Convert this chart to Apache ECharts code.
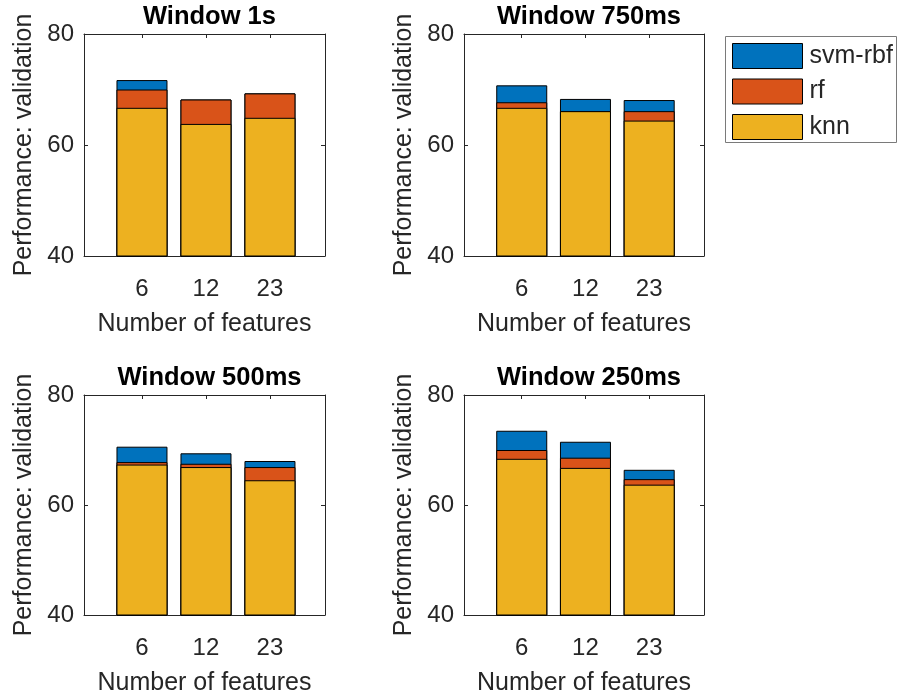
<!DOCTYPE html>
<html>
<head>
<meta charset="utf-8">
<script src="https://cdn.jsdelivr.net/npm/echarts@6/dist/echarts.min.js"></script>
<style>html,body{margin:0;padding:0;background:#fff}#chart{width:901px;height:698px}</style>
</head>
<body>
<div id="chart"></div>
<script>
// ---- data ----
const categories = ['6', '12', '23'];
const catPos = [1, 2, 3];
const titles = ['Window 1s', 'Window 750ms', 'Window 500ms', 'Window 250ms'];
const seriesNames = ['svm-rbf', 'rf', 'knn'];
// performance (validation) reached by each classifier, per window, per feature count
const knn = [[66.7, 63.8, 64.9], [66.7, 66.1, 64.4], [67.35, 66.9, 64.5], [68.4, 66.75, 63.7]];
const rf  = [[70.0, 68.2, 69.3], [67.7, 66.1, 66.1], [67.8, 67.5, 66.9], [70.0, 68.6, 64.7]];
const svm = [[71.7, 68.2, 69.3], [70.75, 68.3, 68.1], [70.6, 69.4, 68.0], [73.5, 71.5, 66.4]];
const yTicks = [40, 60, 80];

// ---- layout / style ----
const colors = {'svm-rbf': '#0072BD', 'rf': '#D95319', 'knn': '#EDB120'};
const grids = [
  {left: 84, top: 34, width: 241, height: 222},
  {left: 464, top: 34, width: 240, height: 222},
  {left: 84, top: 395, width: 241, height: 220},
  {left: 464, top: 395, width: 240, height: 220}
];
const FONT = 'Liberation Sans, Arial, Helvetica, sans-serif';
const axisColor = '#262626';
const tickFS = 24, labelFS = 25, titleFS = 25.5;

const xAxes = [], yAxes = [], series = [], title = [];
const valuesBy = {'svm-rbf': svm, 'rf': rf, 'knn': knn};

grids.forEach((g, i) => {
  const common = {
    type: 'value', gridIndex: i, min: 0.094, max: 3.86,
    axisLine: {show: true, onZero: false, lineStyle: {color: axisColor, width: 1}},
    splitLine: {show: false}
  };
  xAxes.push(Object.assign({}, common, {
    position: 'bottom',
    name: 'Number of features', nameLocation: 'middle', nameGap: 56,
    nameTextStyle: {fontSize: labelFS, color: axisColor, fontFamily: FONT},
    axisTick: {show: true, inside: true, length: 4, customValues: catPos, lineStyle: {color: axisColor}},
    axisLabel: {show: true, customValues: catPos, margin: 21, fontSize: tickFS, color: axisColor, fontFamily: FONT,
      formatter: v => categories[catPos.indexOf(Math.round(v))] || ''}
  }));
  xAxes.push(Object.assign({}, common, {
    position: 'top',
    axisTick: {show: true, inside: true, length: 4, customValues: catPos, lineStyle: {color: axisColor}},
    axisLabel: {show: false}
  }));
  const ycommon = {
    type: 'value', gridIndex: i, min: yTicks[0], max: yTicks[yTicks.length - 1], interval: 20,
    axisLine: {show: true, onZero: false, lineStyle: {color: axisColor, width: 1}},
    splitLine: {show: false},
    axisTick: {show: true, inside: true, length: 4, lineStyle: {color: axisColor}}
  };
  yAxes.push(Object.assign({}, ycommon, {
    position: 'left',
    name: 'Performance: validation', nameLocation: 'middle', nameGap: 47,
    nameTextStyle: {fontSize: labelFS, color: axisColor, fontFamily: FONT},
    axisLabel: {show: true, margin: 10, fontSize: tickFS, color: axisColor, fontFamily: FONT}
  }));
  yAxes.push(Object.assign({}, ycommon, {position: 'right', axisLabel: {show: false}}));

  seriesNames.forEach(name => {
    series.push({
      name: name, type: 'bar', xAxisIndex: 2 * i, yAxisIndex: 2 * i,
      barWidth: 51, barGap: '-100%', clip: true,
      itemStyle: {color: colors[name], borderColor: '#000', borderWidth: 1},
      data: catPos.map((x, k) => [x, valuesBy[name][i][k]])
    });
  });

  title.push({
    text: titles[i], left: g.left + g.width / 2, textAlign: 'center', top: g.top - 35,
    textStyle: {fontSize: titleFS, fontWeight: 'bold', color: '#000', fontFamily: FONT}
  });
});

const chart = echarts.init(document.getElementById('chart'), null, {renderer: 'canvas'});
chart.setOption({
  animation: false,
  backgroundColor: '#fff',
  title: title,
  grid: grids,
  xAxis: xAxes,
  yAxis: yAxes,
  series: series,
  legend: {
    data: ['svm-rbf', 'rf', 'knn'], orient: 'vertical', left: 732, top: 43,
    itemWidth: 70, itemHeight: 25, itemGap: 9.5, padding: 0, icon: 'rect',
    itemStyle: {borderColor: '#000', borderWidth: 1},
    textStyle: {fontSize: 25, color: axisColor, fontFamily: FONT, padding: [0, 0, 0, 2]}
  },
  graphic: [{
    type: 'rect', z: 0, shape: {x: 725.5, y: 36.5, width: 171, height: 106},
    style: {fill: '#fff', stroke: '#7a7a7a', lineWidth: 1}
  }]
});
</script>
</body>
</html>
